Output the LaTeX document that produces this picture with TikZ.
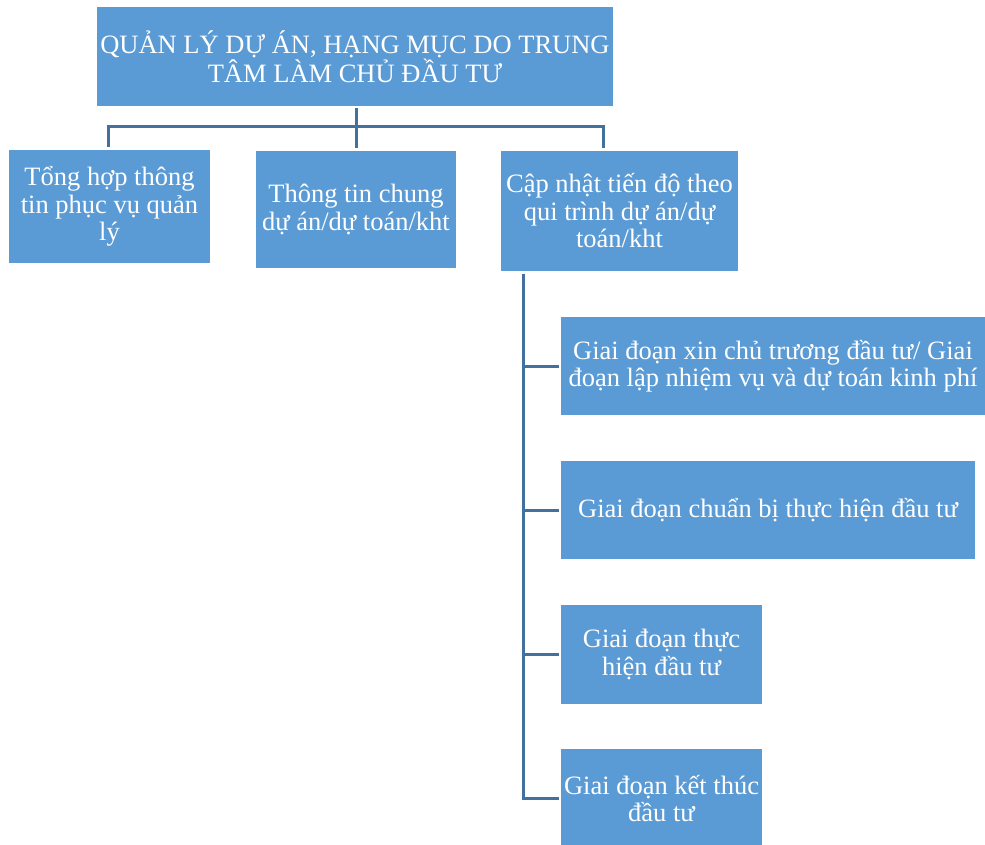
\documentclass[tikz,border=0pt]{standalone}
\usepackage{fontspec}
\setmainfont{Liberation Serif}
\definecolor{boxblue}{HTML}{5B9BD5}
\definecolor{linkblue}{HTML}{41719C}
\begin{document}
\begin{tikzpicture}[x=1pt,y=-1pt,
  box/.style={fill=boxblue, text=white, align=center, inner sep=0pt,
    font=\fontsize{26.5}{27.5}\selectfont},
  link/.style={draw=linkblue, line width=3pt}]
\useasboundingbox (0,0) rectangle (985,845);

% root
\node[box, minimum width=516pt, minimum height=99pt] (top) at (355,56.5)
  {QUẢN LÝ DỰ ÁN, HẠNG MỤC DO TRUNG\\TÂM LÀM CHỦ ĐẦU TƯ};

% first level
\node[box, minimum width=201pt, minimum height=113pt] (b1) at (109.5,206.5)
  {Tổng hợp thông\\tin phục vụ quản\\lý};
\node[box, minimum width=200pt, minimum height=117pt] (b2) at (356,209.5)
  {Thông tin chung\\dự án/dự toán/kht};
\node[box, minimum width=237pt, minimum height=120pt] (b3) at (619.5,211)
  {Cập nhật tiến độ theo\\qui trình dự án/dự\\toán/kht};

% stages
\node[box, minimum width=424pt, minimum height=98pt] (s1) at (773,366)
  {Giai đoạn xin chủ trương đầu tư/ Giai\\đoạn lập nhiệm vụ và dự toán kinh phí};
\node[box, minimum width=414pt, minimum height=98pt] (s2) at (768,510)
  {Giai đoạn chuẩn bị thực hiện đầu tư};
\node[box, minimum width=201pt, minimum height=99pt] (s3) at (661.5,654.5)
  {Giai đoạn thực\\hiện đầu tư};
\node[box, minimum width=201pt, minimum height=99pt] (s4) at (661.5,798.5)
  {Giai đoạn kết thúc\\đầu tư};

% connectors from the root
\coordinate (busL) at (108,127);
\coordinate (busR) at (603,127);
\coordinate (busM) at (356,127);
\draw[link, shorten <=2pt, shorten >=3pt] (top.south -| b2.north) -- (b2.north);
\draw[link, shorten <=3pt, shorten >=3pt]
  (b1.north -| busL) -- (busL) -- (busR) -- (b3.north -| busR);

% stage trunk
\coordinate (trunk) at (523,274);
\draw[link, shorten <=3pt, shorten >=2pt]
  (b3.south -| trunk) -- (trunk |- s4.west) -- (s4.west);
\foreach \s in {s1,s2,s3}
  \draw[link, shorten >=2pt] (trunk |- \s.west) -- (\s.west);
\end{tikzpicture}
\end{document}
